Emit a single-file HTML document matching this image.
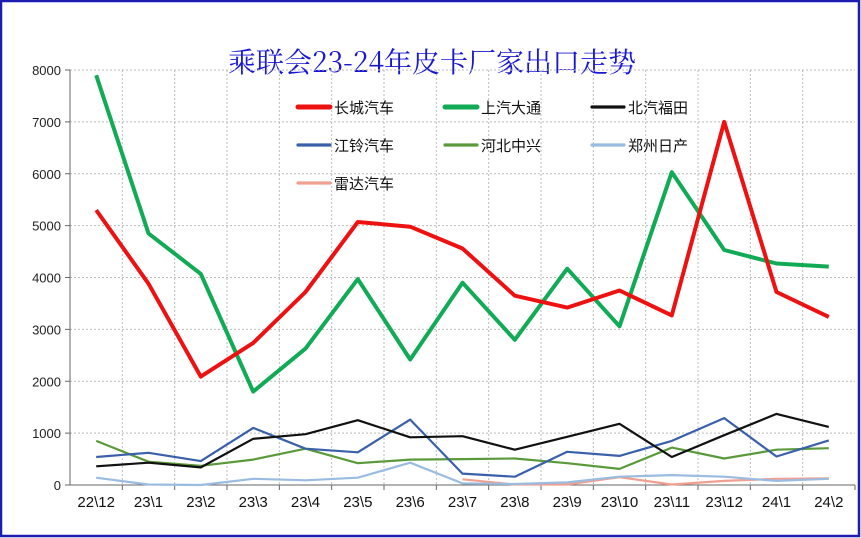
<!DOCTYPE html>
<html><head><meta charset="utf-8"><style>
html,body{margin:0;padding:0;background:#fff}
#wrap{position:relative;width:861px;height:538px;overflow:hidden}
svg text{font-family:"Liberation Sans","Noto Sans CJK SC",sans-serif}
</style></head><body>
<div id="wrap">
<svg id="chart" width="861" height="538">
<rect x="1" y="1" width="858" height="535" fill="#fff" stroke="#1c1cb0" stroke-width="2.5"/>
<text x="432" y="72" text-anchor="middle" font-size="28" fill="#1818d0" style="font-family:'Noto Serif CJK SC','Liberation Serif',serif">乘联会23-24年皮卡厂家出口走势</text>
<g id="grid"></g><g id="axes"></g><g id="series"></g><g id="legend"></g>
</svg>
</div>
<script>
const categories=["22\\12","23\\1","23\\2","23\\3","23\\4","23\\5","23\\6","23\\7","23\\8","23\\9","23\\10","23\\11","23\\12","24\\1","24\\2"];
const yTicks=[0,1000,2000,3000,4000,5000,6000,7000,8000];
const seriesNames=["长城汽车","上汽大通","北汽福田","江铃汽车","河北中兴","郑州日产","雷达汽车"];
const greatWall=[5300,3880,2090,2740,3720,5070,4980,4560,3650,3420,3750,3270,7000,3720,3240];
const saicMaxus=[7900,4850,4070,1800,2630,3970,2420,3900,2800,4170,3060,6030,4530,4270,4210];
const baicFoton=[360,430,340,890,980,1250,920,940,680,930,1180,540,960,1370,1120];
const jmc=[540,620,460,1100,700,630,1260,220,160,640,560,850,1290,550,860];
const hebeiZx=[850,450,370,490,700,420,490,500,510,420,310,720,510,680,710];
const zhengzhouNissan=[140,10,0,120,90,140,430,30,20,50,160,190,160,80,120];
const radar=[null,null,null,null,null,null,null,110,10,10,150,10,80,120,130];
const seriesData=[greatWall,saicMaxus,baicFoton,jmc,hebeiZx,zhengzhouNissan,radar];
const colors=["#ee1111","#11aa55","#111111","#3a60aa","#5a9a3a","#9abce0","#f0a090"];
const widths=[4,4,2.2,2.2,2.2,2.2,2.2];
const slugs=["great-wall","saic-maxus","baic-foton","jmc","hebei-zhongxing","zhengzhou-nissan","radar"];
const L=70,R=855,T=70,B=485,ymax=8000;
const band=(R-L)/categories.length;
const x=i=>L+band*(i+0.5);
const y=v=>B-(v/ymax)*(B-T);
const NS="http://www.w3.org/2000/svg";
function mk(tag,attrs,parent){const e=document.createElementNS(NS,tag);for(const k in attrs)e.setAttribute(k,attrs[k]);parent.appendChild(e);return e;}
const grid=document.getElementById('grid'),axes=document.getElementById('axes'),ser=document.getElementById('series'),leg=document.getElementById('legend');
yTicks.forEach(t=>{
 if(t>0){const g=mk('line',{x1:L,x2:R,y1:y(t),y2:y(t),stroke:'#bbb','stroke-dasharray':'2,2'},grid);
 
 }
 const tx=mk('text',{x:L-9,y:y(t)+5,'text-anchor':'end','font-size':13,fill:'#222'},axes);
 tx.textContent=t;
 
 
 const tk=mk('line',{x1:L-5,x2:L,y1:y(t),y2:y(t),stroke:'#666'},axes);
 
 
});
categories.forEach((c,i)=>{
 const gx=L+band*(i+1);
 if(i<categories.length-1){const g=mk('line',{x1:gx,x2:gx,y1:T,y2:B,stroke:'#bbb','stroke-dasharray':'2,2'},grid);
 
 }
 const tk=mk('line',{x1:gx,x2:gx,y1:B,y2:B+5,stroke:'#666'},axes);
 
 
 const tx=mk('text',{x:x(i),y:B+22,'text-anchor':'middle','font-size':15,fill:'#111'},axes);
 tx.textContent=c;
 
 
});
const ya=mk('line',{x1:L,x2:L,y1:T,y2:B,stroke:'#666'},axes);


const xa=mk('line',{x1:L,x2:R,y1:B,y2:B,stroke:'#666'},axes);


for(let s=seriesData.length-1;s>=0;s--){
 const d=seriesData[s];let pts=[];
 d.forEach((v,i)=>{if(v!==null)pts.push(x(i).toFixed(1)+','+y(v).toFixed(1));});
 const p=mk('polyline',{points:pts.join(' '),fill:'none',stroke:colors[s],'stroke-width':widths[s],'stroke-linejoin':'round'},ser);
 
 
}
const legPos=[[298,107],[445,107],[592,107],[298,145],[445,145],[592,145],[298,183]];
seriesNames.forEach((n,s)=>{
 const [lx,ly]=legPos[s];
 const g=mk('g',{},leg);
 
 
 mk('line',{x1:lx,x2:lx+32,y1:ly,y2:ly,stroke:colors[s],'stroke-width':widths[s]+1,'stroke-linecap':'round'},g);
 const t=mk('text',{x:lx+36,y:ly+6,'font-size':15,fill:'#111'},g);
 t.textContent=n;
});
</script>
</body></html>
